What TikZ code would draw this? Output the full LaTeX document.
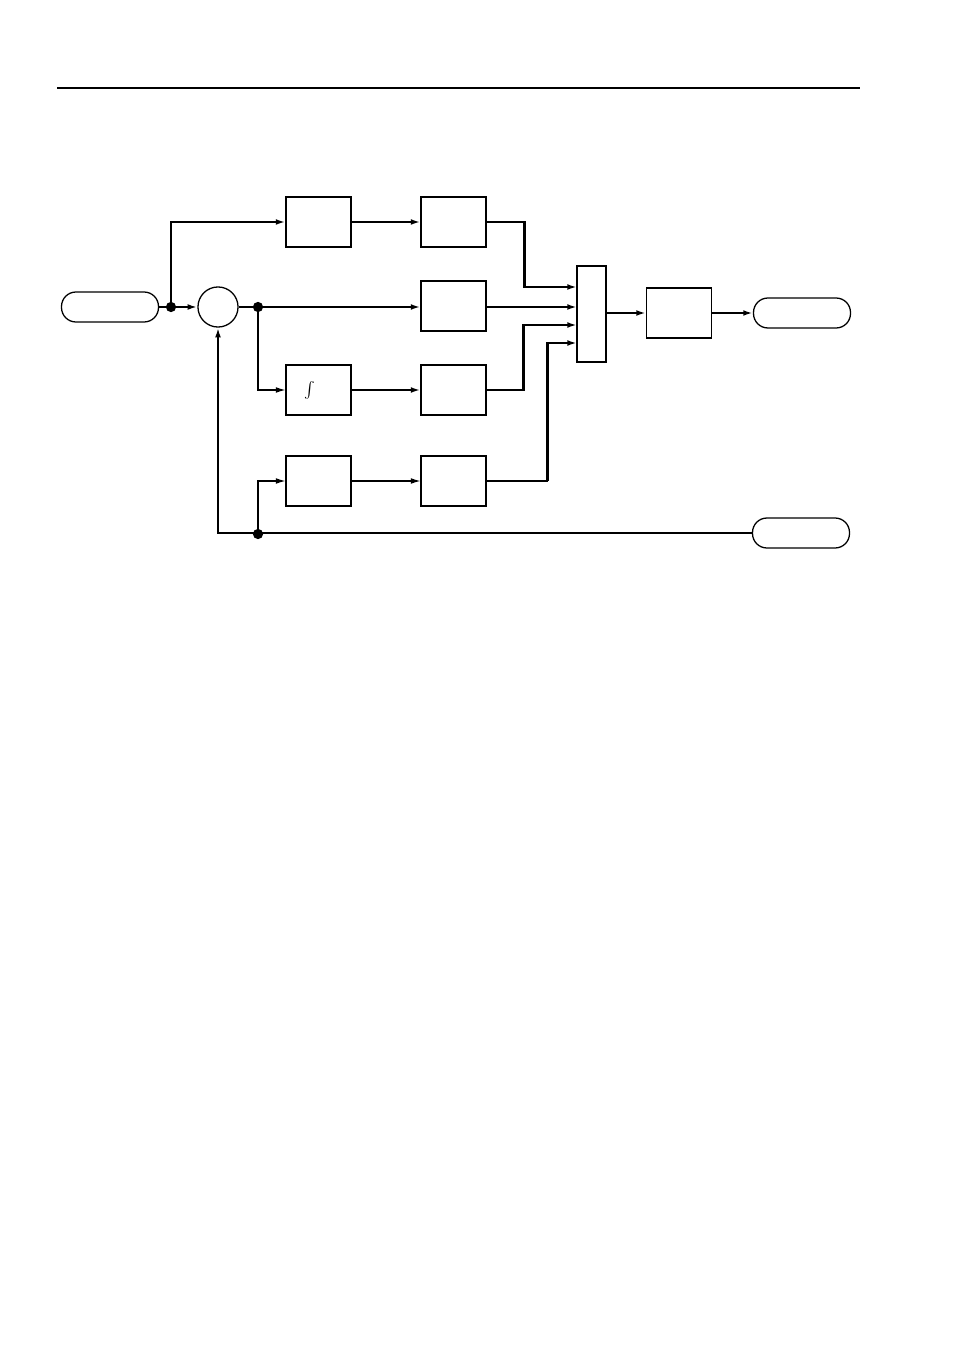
\documentclass[tikz,border=0pt]{standalone}
\usetikzlibrary{arrows.meta}

\begin{document}
\begin{tikzpicture}[x=0.6237pt, y=-0.6237pt, >={Latex[length=6pt,width=3.6pt]}]

\tikzset{ blockbox/.style={draw, line width=0.7pt, minimum width=40.5pt,
    minimum height=31.2pt, inner sep=0pt},
  terminal/.style={draw, line width=0.8pt, rounded corners=9pt,
    minimum width=60.5pt, minimum height=18.7pt, inner sep=0pt},
  sumbox/.style={draw, line width=0.8pt, minimum width=18.1pt,
    minimum height=59.9pt, inner sep=0pt},
  comparator/.style={draw, circle, line width=0.8pt, minimum size=25pt, inner sep=0pt},
  junction/.style={circle, fill=black, minimum size=6.4pt, inner sep=0pt},
  heavy/.style={line width=1.3pt},
  light/.style={line width=0.7pt}
}

\useasboundingbox (0,0) rectangle (954,1351);

% head rule
\draw[line width=0.8pt] (57,88) -- (860,88);

% terminals
\node[terminal] (setpoint) at (110,307) {};
\node[terminal] (output) at (802,313) {};
\node[terminal] (feedback) at (801,533) {};

% comparator and branch points
\node[comparator] (cmp) at (218,307) {};
\node[junction] (jin) at (171,307) {};
\node[junction] (jerr) at (258,307) {};
\node[junction] (jfb) at (258,534) {};

% blocks
\node[blockbox] (ffa) at (318.5,222) {};
\node[blockbox] (ffb) at (453.5,222) {};
\node[blockbox] (propb) at (453.5,306) {};
\node[blockbox] (inta) at (318.5,390) {\Large$\int$\kern11pt};
\node[blockbox] (intb) at (453.5,390) {};
\node[blockbox] (dera) at (318.5,481) {};
\node[blockbox] (derb) at (453.5,481) {};
\node[sumbox] (adder) at (591.5,314) {};
\node[blockbox] (plant) at (679,313) {};

% adder inputs
\coordinate (in1) at (577,287);
\coordinate (in2) at (577,307);
\coordinate (in3) at (577,325);
\coordinate (in4) at (577,343);

% forward path
\draw[heavy] (setpoint.east) -- (jin);
\draw[heavy,->] (jin) -- (cmp.west);
\draw[heavy,->] (jin) |- (ffa.west);
\draw[heavy,->] (ffa.east) -- (ffb.west);
\draw[heavy] (cmp.east) -- (jerr);
\draw[heavy,->] (jerr) -- (propb.west |- jerr);
\draw[light,->] (jerr) |- (inta.west);
\draw[heavy,->] (inta.east) -- (intb.west);

% into the adder
\draw[heavy,->] (ffb.east) -- ++(38,0) |- (in1);
\draw[heavy,->] (propb.east |- in2) -- (in2);
\draw[heavy,->] (intb.east) -- ++(37,0) |- (in3);
\draw[light] (derb.east) -- ++(61,0) coordinate (dturn);
\draw[heavy,->] (dturn) |- (in4);
\draw[heavy,->] (adder.east |- plant) -- (plant.west);
\draw[heavy,->] (plant.east) -- (output.west);

% feedback
\draw[heavy,->] (feedback.west) -| (cmp.south);
\draw[light,->] (jfb) |- (dera.west);
\draw[light,->] (dera.east) -- (derb.west);

\end{tikzpicture}
\end{document}
